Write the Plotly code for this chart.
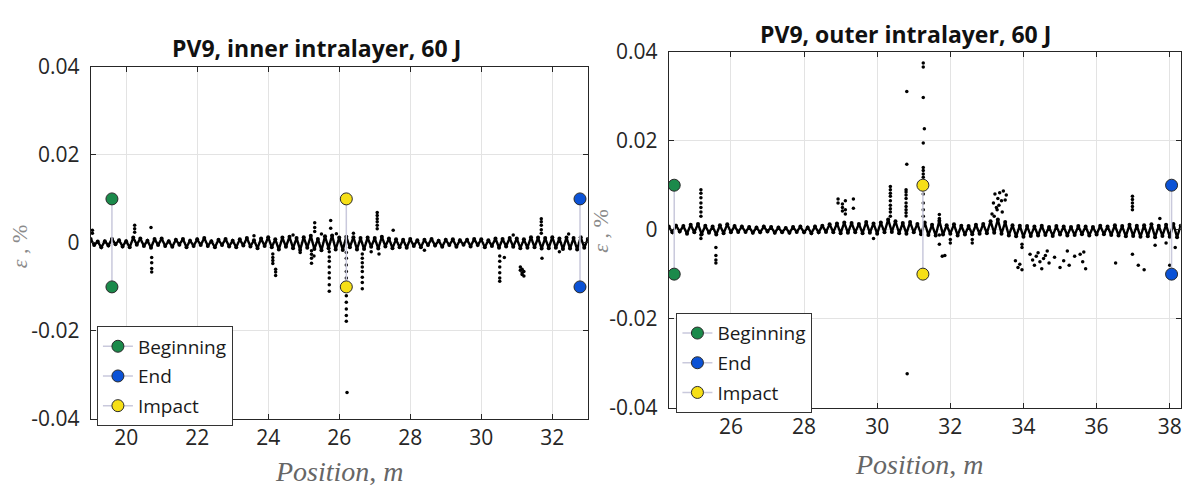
import plotly.graph_objects as go

# ---------------- DATA ----------------
TITLE_L = "PV9, inner intralayer, 60 J"
TITLE_R = "PV9, outer intralayer, 60 J"

X_TICKS_L = [20, 22, 24, 26, 28, 30, 32]
X_TICKS_R = [26, 28, 30, 32, 34, 36, 38]
Y_TICKS = [-0.04, -0.02, 0, 0.02, 0.04]
Y_TICK_TEXT = ["-0.04", "-0.02", "0", "0.02", "0.04"]

# baseline strain samples, left panel (inner intralayer)
BASE_X_L = [19.0, 19.1, 19.2, 19.3, 19.4, 19.5, 19.6, 19.7, 19.8, 19.9,
            20.0, 20.1, 20.2, 20.3, 20.4, 20.5, 20.6, 20.7, 20.8, 20.9,
            21.0, 21.1, 21.2, 21.3, 21.4, 21.5, 21.6, 21.7, 21.8, 21.9,
            22.0, 22.1, 22.2, 22.3, 22.4, 22.5, 22.6, 22.7, 22.8, 22.9,
            23.0, 23.1, 23.2, 23.3, 23.4, 23.5, 23.6, 23.7, 23.8, 23.9,
            24.0, 24.1, 24.2, 24.3, 24.4, 24.5, 24.6, 24.7, 24.8, 24.9,
            25.0, 25.1, 25.2, 25.3, 25.4, 25.5, 25.6, 25.7, 25.8, 25.9,
            26.0, 26.1, 26.2, 26.3, 26.4, 26.5, 26.6, 26.7, 26.8, 26.9,
            27.0, 27.1, 27.2, 27.3, 27.4, 27.5, 27.6, 27.7, 27.8, 27.9,
            28.0, 28.1, 28.2, 28.3, 28.4, 28.5, 28.6, 28.7, 28.8, 28.9,
            29.0, 29.1, 29.2, 29.3, 29.4, 29.5, 29.6, 29.7, 29.8, 29.9,
            30.0, 30.1, 30.2, 30.3, 30.4, 30.5, 30.6, 30.7, 30.8, 30.9,
            31.0, 31.1, 31.2, 31.3, 31.4, 31.5, 31.6, 31.7, 31.8, 31.9,
            32.0, 32.1, 32.2, 32.3, 32.4, 32.5, 32.6, 32.7, 32.8, 32.9,
            33.0]
BASE_Y_L = [0.0009, -0.0005, 0.0003, -0.0010, 0.0004, -0.0006, 0.0009, -0.0003, 0.0006, -0.0008,
            0.0004, -0.0010, 0.0012, -0.0004, 0.0010, -0.0007, 0.0005, -0.0011, 0.0009, -0.0005,
            0.0010, -0.0007, 0.0004, -0.0009, 0.0007, -0.0004, 0.0009, -0.0010, 0.0005, -0.0007,
            0.0008, -0.0005, 0.0011, -0.0007, 0.0004, -0.0010, 0.0007, -0.0005, 0.0009, -0.0008,
            0.0005, -0.0010, 0.0008, -0.0006, 0.0011, -0.0008, 0.0006, -0.0012, 0.0010, -0.0007,
            0.0013, -0.0010, 0.0008, -0.0015, 0.0012, -0.0009, 0.0014, -0.0012, 0.0011, -0.0016,
            0.0013, -0.0011, 0.0016, -0.0014, 0.0009, -0.0017, 0.0015, -0.0012, 0.0017, -0.0015,
            0.0012, -0.0016, 0.0014, -0.0010, 0.0013, -0.0015, 0.0011, -0.0014, 0.0012, -0.0009,
            0.0011, -0.0013, 0.0014, -0.0008, 0.0010, -0.0012, 0.0008, -0.0010, 0.0007, -0.0011,
            0.0009, -0.0007, 0.0006, -0.0010, 0.0007, -0.0005, 0.0009, -0.0006, 0.0005, -0.0009,
            0.0007, -0.0005, 0.0008, -0.0009, 0.0006, -0.0004, 0.0007, -0.0008, 0.0009, -0.0005,
            0.0008, -0.0010, 0.0006, -0.0007, 0.0010, -0.0011, 0.0009, -0.0008, 0.0011, -0.0009,
            0.0010, -0.0012, 0.0008, -0.0011, 0.0013, -0.0010, 0.0012, -0.0013, 0.0011, -0.0012,
            0.0013, -0.0011, 0.0010, -0.0014, 0.0012, -0.0013, 0.0011, -0.0015, 0.0013, -0.0011,
            0.0009]

# isolated readings, left panel
OUT_X_L = [19.05, 19.05,
           20.24, 20.24, 20.24, 20.70,
           20.72, 20.72, 20.72, 20.72,
           24.13, 24.13, 24.13, 24.13, 24.21, 24.21, 24.21,
           25.22, 25.22, 25.22, 25.22, 25.29,
           25.31, 25.31, 25.31, 25.76, 25.76,
           25.72, 25.72, 25.72, 25.72, 25.72, 25.72, 25.72, 25.72,
           25.92,
           26.20, 26.20, 26.20, 26.20, 26.20, 26.20, 26.20, 26.20, 26.20, 26.20,
           26.22,
           26.65, 26.65, 26.65, 26.65, 26.65, 26.65, 26.65, 26.65,
           27.07, 27.07, 27.07, 27.07, 27.07, 27.07,
           27.12, 27.52,
           30.52, 30.52, 30.52, 30.52, 30.52, 30.52, 30.65,
           31.10, 31.10, 31.15, 31.15, 31.15, 31.20, 31.20,
           31.69, 31.69, 31.69, 31.69, 31.69, 31.71, 32.46,
           23.6, 24.7, 24.9, 25.5, 26.4, 26.9, 28.4, 30.9, 32.2]
OUT_Y_L = [0.0029, 0.0022,
           0.0040, 0.0032, 0.0024, 0.0035,
           -0.0033, -0.0045, -0.0058, -0.0066,
           -0.0025, -0.0033, -0.0040, -0.0047, -0.0060, -0.0066, -0.0074,
           -0.0018, -0.0026, -0.0035, -0.0046, -0.0030,
           0.0046, 0.0035, 0.0026, 0.0051, 0.0033,
           -0.0020, -0.0032, -0.0042, -0.0055, -0.0068, -0.0080, -0.0095, -0.0110,
           0.0021,
           -0.0022, -0.0035, -0.0050, -0.0065, -0.0080, -0.0120, -0.0135, -0.0150, -0.0165, -0.0178,
           -0.0340,
           -0.0025, -0.0035, -0.0045, -0.0055, -0.0065, -0.0078, -0.0090, -0.0104,
           0.0069, 0.0062, 0.0055, 0.0048, 0.0040, 0.0032,
           -0.0025, 0.0029,
           -0.0030, -0.0042, -0.0055, -0.0068, -0.0080, -0.0087, -0.0033,
           -0.0055, -0.0062, -0.0060, -0.0068, -0.0072, -0.0065, -0.0075,
           0.0055, 0.0048, 0.0040, 0.0030, 0.0022, -0.0035, 0.0020,
           0.0016, 0.0018, -0.0022, 0.0020, 0.0022, -0.0020, -0.0017, 0.0018, -0.0020]

# baseline strain samples, right panel (outer intralayer)
BASE_X_R = [24.3, 24.4, 24.5, 24.6, 24.7, 24.8, 24.9, 25.0, 25.1, 25.2,
            25.3, 25.4, 25.5, 25.6, 25.7, 25.8, 25.9, 26.0, 26.1, 26.2,
            26.3, 26.4, 26.5, 26.6, 26.7, 26.8, 26.9, 27.0, 27.1, 27.2,
            27.3, 27.4, 27.5, 27.6, 27.7, 27.8, 27.9, 28.0, 28.1, 28.2,
            28.3, 28.4, 28.5, 28.6, 28.7, 28.8, 28.9, 29.0, 29.1, 29.2,
            29.3, 29.4, 29.5, 29.6, 29.7, 29.8, 29.9, 30.0, 30.1, 30.2,
            30.3, 30.4, 30.5, 30.6, 30.7, 30.8, 30.9, 31.0, 31.1, 31.2,
            31.3, 31.4, 31.5, 31.6, 31.7, 31.8, 31.9, 32.0, 32.1, 32.2,
            32.3, 32.4, 32.5, 32.6, 32.7, 32.8, 32.9, 33.0, 33.1, 33.2,
            33.3, 33.4, 33.5, 33.6, 33.7, 33.8, 33.9, 34.0, 34.1, 34.2,
            34.3, 34.4, 34.5, 34.6, 34.7, 34.8, 34.9, 35.0, 35.1, 35.2,
            35.3, 35.4, 35.5, 35.6, 35.7, 35.8, 35.9, 36.0, 36.1, 36.2,
            36.3, 36.4, 36.5, 36.6, 36.7, 36.8, 36.9, 37.0, 37.1, 37.2,
            37.3, 37.4, 37.5, 37.6, 37.7, 37.8, 37.9, 38.0, 38.1, 38.2,
            38.3]
BASE_Y_R = [0.0007, -0.0006, 0.0009, -0.0004, 0.0008, -0.0009, 0.0011, -0.0006, 0.0013, -0.0010,
            0.0009, -0.0007, 0.0007, -0.0011, 0.0010, -0.0008, 0.0012, -0.0006, 0.0008, -0.0005,
            0.0007, -0.0005, 0.0006, -0.0007, 0.0005, -0.0006, 0.0007, -0.0004, 0.0006, -0.0007,
            0.0005, -0.0006, 0.0004, -0.0007, 0.0006, -0.0005, 0.0007, -0.0006, 0.0005, -0.0008,
            0.0007, -0.0006, 0.0009, -0.0005, 0.0012, -0.0006, 0.0014, -0.0008, 0.0016, -0.0007,
            0.0015, -0.0006, 0.0013, -0.0008, 0.0017, -0.0007, 0.0014, -0.0009, 0.0016, -0.0006,
            0.0023, -0.0005, 0.0019, -0.0008, 0.0015, -0.0009, 0.0017, -0.0006, 0.0013, -0.0010,
            0.0016, -0.0012, 0.0011, -0.0013, 0.0020, -0.0011, 0.0010, -0.0009, 0.0012, -0.0013,
            0.0009, -0.0011, 0.0008, -0.0010, 0.0011, -0.0009, 0.0013, -0.0008, 0.0019, -0.0007,
            0.0023, -0.0009, 0.0017, -0.0013, 0.0010, -0.0015, 0.0009, -0.0016, 0.0008, -0.0014,
            0.0007, -0.0013, 0.0009, -0.0012, 0.0006, -0.0014, 0.0008, -0.0011, 0.0007, -0.0013,
            0.0006, -0.0012, 0.0008, -0.0010, 0.0007, -0.0013, 0.0006, -0.0011, 0.0009, -0.0010,
            0.0007, -0.0012, 0.0010, -0.0013, 0.0008, -0.0015, 0.0011, -0.0014, 0.0009, -0.0016,
            0.0010, -0.0015, 0.0012, -0.0017, 0.0009, -0.0014, 0.0011, -0.0016, 0.0013, -0.0017,
            0.0009]

# isolated readings, right panel
OUT_X_R = [25.18, 25.18, 25.18, 25.18, 25.18, 25.18, 25.18, 25.18, 25.18,
           25.59, 25.59, 25.59, 25.59,
           28.93, 28.93, 29.05, 29.05, 29.05, 29.13, 29.13, 29.13, 29.35, 29.35,
           29.90,
           30.36, 30.36, 30.36, 30.36, 30.36, 30.36, 30.36, 30.36, 30.36,
           30.79, 30.79, 30.79, 30.79, 30.79, 30.79, 30.79, 30.79, 30.79,
           30.81, 30.81, 30.82,
           31.26, 31.26, 31.26, 31.26, 31.26, 31.26, 31.26, 31.26, 31.26, 31.26, 31.26, 31.26,
           31.29,
           31.70, 31.70, 31.70, 31.70, 31.78, 31.85, 32.00, 32.00, 32.60, 32.60,
           33.14, 33.18, 33.22, 33.26, 33.30, 33.35, 33.40, 33.45, 33.50, 33.53, 33.28, 33.33, 33.20, 33.42,
           33.96, 33.96,
           33.78, 33.85, 33.90, 33.96, 34.18, 34.25, 34.30, 34.35, 34.40, 34.45, 34.50, 34.55, 34.60,
           34.70, 34.85, 35.00, 35.10, 35.25, 35.40, 35.55, 35.62, 35.70, 35.65, 34.65, 35.20,
           36.52,
           36.98, 36.98, 36.98, 36.98, 36.98, 36.98,
           37.14, 37.30, 37.73, 38.00, 37.60, 37.90, 38.15]
OUT_Y_R = [0.0090, 0.0082, 0.0072, 0.0060, 0.0050, 0.0040, 0.0030, -0.0012, -0.0020,
           -0.0040, -0.0058, -0.0068, -0.0075,
           0.0069, 0.0060, 0.0058, 0.0050, 0.0042, 0.0065, 0.0045, 0.0035, 0.0069, 0.0048,
           -0.0020,
           0.0097, 0.0090, 0.0082, 0.0075, 0.0065, 0.0055, 0.0047, 0.0040, 0.0030,
           0.0090, 0.0085, 0.0078, 0.0070, 0.0060, 0.0052, 0.0045, 0.0038, 0.0031,
           0.0311, 0.0147, -0.0324,
           0.0375, 0.0366, 0.0297, 0.0195, 0.0140, 0.0133, 0.0125, 0.0118, 0.0080, 0.0060, 0.0045, 0.0030,
           0.0227,
           0.0034, 0.0025, -0.0012, -0.0033, -0.0060, -0.0058, -0.0022, -0.0030, -0.0022, -0.0030,
           0.0035, 0.0060, 0.0080, 0.0050, 0.0070, 0.0083, 0.0065, 0.0087, 0.0067, 0.0078, 0.0045, 0.0055, 0.0030, 0.0040,
           -0.0033, -0.0040,
           -0.0070, -0.0085, -0.0078, -0.0090, -0.0055, -0.0068, -0.0080, -0.0060, -0.0052, -0.0072, -0.0088, -0.0065, -0.0058,
           -0.0075, -0.0062, -0.0085, -0.0070, -0.0080, -0.0060, -0.0055, -0.0072, -0.0088, -0.0050, -0.0048, -0.0048,
           -0.0075,
           0.0075, 0.0068, 0.0060, 0.0052, 0.0045, -0.0055,
           -0.0080, -0.0090, 0.0025, -0.0080, -0.0035, -0.0030, -0.0040]

# event markers (position, m)
EVENT_NAMES = ["Beginning", "End", "Impact"]
EVENT_POS_L = [19.6, 32.78, 26.2]
EVENT_POS_R = [24.45, 38.05, 31.25]
EVENT_LEVEL = [-0.01, 0.01]

# ---------------- STYLE ----------------
W, H = 1185, 497
EVENT_COLORS = ["#1b8a4b", "#0b52d6", "#f6df16"]
AX_COLOR = "#262626"
GRID_COLOR = "#e3e3e3"
FONT = "Open Sans"

# plot-area pixel boxes (left, top, right, bottom)
BOX_L = (90.7, 55, 588.3, 428)
BOX_R = (669.3, 39, 1181.7, 416)


def dom_x(b):
    return [b[0] / W, b[2] / W]


def dom_y(b):
    return [1 - b[3] / H, 1 - b[1] / H]


fig = go.Figure()

panels = [
    ("x", "y", "legend", BASE_X_L, BASE_Y_L, OUT_X_L, OUT_Y_L, EVENT_POS_L),
    ("x2", "y2", "legend2", BASE_X_R, BASE_Y_R, OUT_X_R, OUT_Y_R, EVENT_POS_R),
]

for xa, ya, leg, bx, by, ox, oy, epos in panels:
    fig.add_trace(go.Scatter(
        x=bx, y=by, mode="lines+markers", xaxis=xa, yaxis=ya,
        line=dict(color="black", width=2.4),
        marker=dict(color="black", size=4),
        showlegend=False, hoverinfo="skip"))
    fig.add_trace(go.Scatter(
        x=ox, y=oy, mode="markers", xaxis=xa, yaxis=ya,
        marker=dict(color="black", size=3.5),
        showlegend=False, hoverinfo="skip"))
    for name, col, p in zip(EVENT_NAMES, EVENT_COLORS, epos):
        fig.add_trace(go.Scatter(
            x=[p, p], y=EVENT_LEVEL, mode="lines+markers", xaxis=xa, yaxis=ya,
            line=dict(color="#c9c9dc", width=1.5),
            marker=dict(color=col, size=12, line=dict(color="#2a2a2a", width=1)),
            name=name, legend=leg, legendgroup=leg + name))

axis_common = dict(
    showgrid=True, gridcolor=GRID_COLOR, gridwidth=1,
    showline=True, linecolor=AX_COLOR, linewidth=1, mirror="ticks",
    ticks="inside", ticklen=5, tickcolor=AX_COLOR, tickwidth=1,
    zeroline=False,
    tickfont=dict(family=FONT, size=21, color=AX_COLOR),
)

fig.update_layout(
    width=W, height=H, margin=dict(l=0, r=0, t=0, b=0),
    paper_bgcolor="white", plot_bgcolor="white",
    xaxis=dict(domain=dom_x(BOX_L), range=[19, 33], tickvals=X_TICKS_L,
               ticktext=[str(t) for t in X_TICKS_L], anchor="y", **axis_common),
    yaxis=dict(domain=dom_y(BOX_L), range=[-0.04, 0.04], tickvals=Y_TICKS,
               ticktext=Y_TICK_TEXT, anchor="x", ticklabelstandoff=6, **axis_common),
    xaxis2=dict(domain=dom_x(BOX_R), range=[24.3, 38.3], tickvals=X_TICKS_R,
                ticktext=[str(t) for t in X_TICKS_R], anchor="y2", **axis_common),
    yaxis2=dict(domain=dom_y(BOX_R), range=[-0.04, 0.04], tickvals=Y_TICKS,
                ticktext=Y_TICK_TEXT, anchor="x2", ticklabelstandoff=6, **axis_common),
    legend=dict(x=97 / W, y=1 - 330 / H, xanchor="left", yanchor="top",
                bordercolor="#333333", borderwidth=1, bgcolor="white",
                font=dict(family=FONT, size=19, color="#1a1a1a"),
                itemwidth=30, tracegroupgap=2),
    legend2=dict(x=677 / W, y=1 - 316 / H, xanchor="left", yanchor="top",
                 bordercolor="#333333", borderwidth=1, bgcolor="white",
                 font=dict(family=FONT, size=19, color="#1a1a1a"),
                 itemwidth=30, tracegroupgap=2),
    showlegend=True,
)

annotations = [
    dict(text="<b>" + TITLE_L + "</b>", x=317 / W, y=1 - 35 / H, xref="paper", yref="paper",
         showarrow=False, xanchor="center", yanchor="middle",
         font=dict(family=FONT, size=23, color="#111111")),
    dict(text="<b>" + TITLE_R + "</b>", x=906 / W, y=1 - 20 / H, xref="paper", yref="paper",
         showarrow=False, xanchor="center", yanchor="middle",
         font=dict(family=FONT, size=23, color="#111111")),
    dict(text="<i>Position</i>, <i>m</i>", x=340 / W, y=1 - 484 / H, xref="paper", yref="paper",
         showarrow=False, xanchor="center", yanchor="middle",
         font=dict(family="Liberation Serif", size=28, color="#666666")),
    dict(text="<i>Position</i>, <i>m</i>", x=920 / W, y=1 - 476 / H, xref="paper", yref="paper",
         showarrow=False, xanchor="center", yanchor="middle",
         font=dict(family="Liberation Serif", size=28, color="#666666")),
    dict(text="<i>ε</i> , %", x=19 / W, y=1 - 245 / H, xref="paper", yref="paper",
         showarrow=False, xanchor="center", yanchor="middle", textangle=-90,
         font=dict(family="Liberation Serif", size=22, color="#8a8a8a")),
    dict(text="<i>ε</i> , %", x=601 / W, y=1 - 228 / H, xref="paper", yref="paper",
         showarrow=False, xanchor="center", yanchor="middle", textangle=-90,
         font=dict(family="Liberation Serif", size=22, color="#8a8a8a")),
]
fig.update_layout(annotations=annotations)

fig.write_html("out.html")
